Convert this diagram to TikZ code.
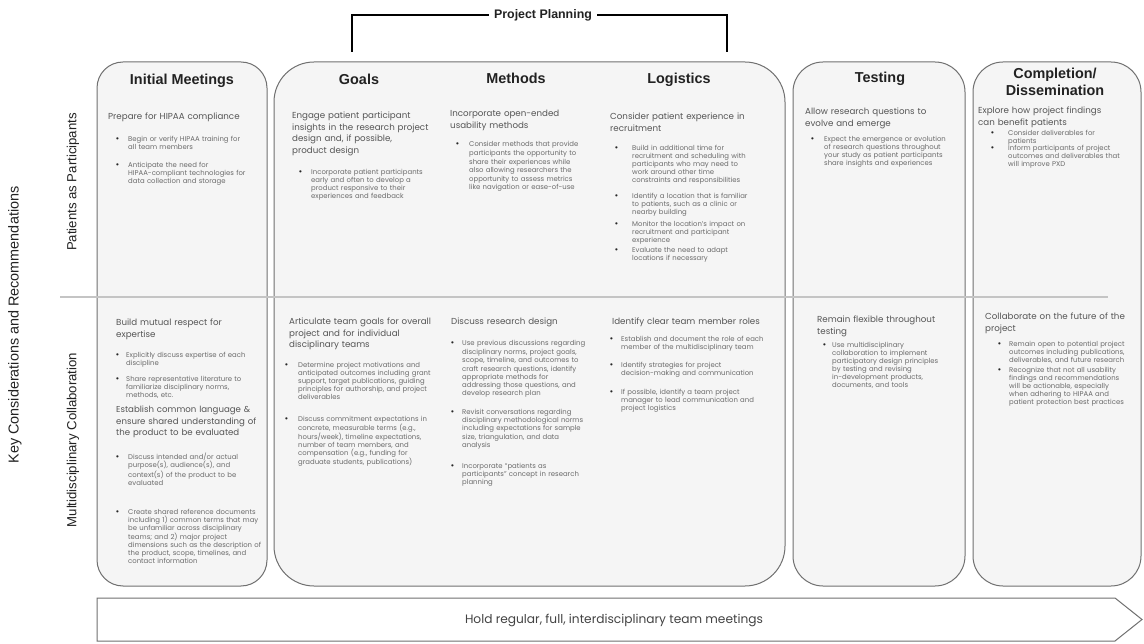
\documentclass[tikz,border=0pt]{standalone}
\usepackage{fontspec}
\setmainfont{Poppins}
\newfontfamily\hfont{Liberation Sans}
\definecolor{boxfill}{HTML}{F5F5F5}
\definecolor{boxline}{HTML}{707070}
\definecolor{bodycol}{HTML}{6A6A6A}
\definecolor{subcol}{HTML}{555555}
\definecolor{titlecol}{HTML}{222222}
\definecolor{divcol}{HTML}{C4C4C4}
\tikzset{
  colbox/.style={draw=boxline, line width=1pt, fill=boxfill},
  coltitle/.style={font=\hfont\bfseries\fontsize{14.4}{17.5}\selectfont, text=titlecol, inner sep=0, align=center},
  subhead/.style={anchor=base west, inner sep=0, align=left, font=\fontsize{8.7}{11.5}\selectfont, text=subcol},
  itmtext/.style={anchor=base west, inner sep=0, align=left, font=\fontsize{6.9}{8}\selectfont, text=bodycol},
  sidelabel/.style={rotate=90, font=\hfont\fontsize{13.2}{15}\selectfont, text=titlecol, inner sep=0},
}
\newcommand\bitem[6]{\node[itmtext,text width=#5pt] (#1) at (#2,#3) {\llap{\makebox[#4pt][l]{\color{black!85}\hfont\fontsize{8}{8}\selectfont\textbullet}}#6};}
\begin{document}
\begin{tikzpicture}[x=1pt,y=-1pt]
\useasboundingbox (0,0) rectangle (1144,644);
\fill[white] (0,0) rectangle (1144,644);

% column boxes
\draw[colbox, rounded corners=26pt] (97,62) rectangle (267,586);
\draw[colbox, rounded corners=40pt] (274,62) rectangle (785,586);
\draw[colbox, rounded corners=30pt] (793,62) rectangle (965,586);
\draw[colbox, rounded corners=30pt] (973,62) rectangle (1141,586);

% row divider
\draw[divcol, line width=1.6pt] (60,297) -- (1108,297);

% project planning bracket
\node[font=\hfont\bfseries\fontsize{12.4}{14}\selectfont, text=titlecol, fill=white, inner xsep=5pt, inner ysep=2pt] (pp) at (543,15) {Project Planning};
\draw[line width=1.8pt] (352,52) -- (352,15) -- (pp.west);
\draw[line width=1.8pt] (727,52) -- (727,15) -- (pp.east);

% side labels
\node[sidelabel, font=\hfont\fontsize{14.4}{16}\selectfont] (kc) at (15,325) {Key Considerations and Recommendations};
\node[sidelabel] (pap) at (73,182) {Patients as Participants};
\node[sidelabel] (mdc) at (73,440) {Multidisciplinary Collaboration};

% column titles
\node[coltitle] (tI) at (182,81) {Initial Meetings};
\node[coltitle] (tG) at (359,79) {Goals};
\node[coltitle] (tM) at (516,78) {Methods};
\node[coltitle] (tL) at (679,80) {Logistics};
\node[coltitle] (tT) at (880,79) {Testing};
\node[coltitle] (tC) at (1055,82) {Completion/\\Dissemination};

% ---------- Patients as Participants row ----------
\node[subhead,text width=150pt] (imP) at (108,120) {Prepare for HIPAA compliance};
\bitem{imP1}{128}{142}{12}{136}{Begin or verify HIPAA training for\\all team members}
\bitem{imP2}{128}{168}{12}{136}{Anticipate the need for\\HIPAA-compliant technologies for\\data collection and storage}

\node[subhead,text width=150pt] (gP) at (292,119) {Engage patient participant\\insights in the research project\\design and, if possible,\\product design};
\bitem{gP1}{311}{175}{12}{126}{Incorporate patient participants\\early and often to develop a\\product responsive to their\\experiences and feedback}

\node[subhead,text width=148pt] (mP) at (450,117) {Incorporate open-ended\\usability methods};
\bitem{mP1}{469}{147}{13}{128}{\baselineskip=8.6pt Consider methods that provide\\participants the opportunity to\\share their experiences while\\also allowing researchers the\\opportunity to assess metrics\\like navigation or ease-of-use}

\node[subhead,text width=165pt] (lP) at (610,120) {Consider patient experience in\\recruitment};
\bitem{lP1}{632}{151}{17}{148}{Build in additional time for\\recruitment and scheduling with\\participants who may need to\\work around other time\\constraints and responsibilities}
\bitem{lP2}{632}{199}{17}{148}{Identify a location that is familiar\\to patients, such as a clinic or\\nearby building}
\bitem{lP3}{632}{227}{17}{148}{Monitor the location's impact on\\recruitment and participant\\experience}
\bitem{lP4}{632}{253}{17}{148}{Evaluate the need to adapt\\locations if necessary}

\node[subhead,text width=150pt] (tP) at (805,115) {Allow research questions to\\evolve and emerge};
\bitem{tP1}{824}{142}{13}{137}{Expect the emergence or evolution\\of research questions throughout\\your study as patient participants\\share insights and experiences}

\node[subhead,text width=155pt] (cP) at (978,114) {Explore how project findings\\can benefit patients};
\bitem{cP1}{1008}{136}{17}{130}{\baselineskip=7.5pt Consider deliverables for\\patients}
\bitem{cP2}{1008}{151}{17}{130}{\baselineskip=7.5pt Inform participants of project\\outcomes and deliverables that\\will improve PXD}

% ---------- Multidisciplinary Collaboration row ----------
\node[subhead,text width=148pt] (imM) at (116,326) {Build mutual respect for\\expertise};
\bitem{imM1}{126}{358}{10}{139}{Explicitly discuss expertise of each\\discipline}
\bitem{imM2}{126}{382}{10}{139}{Share representative literature to\\familiarize disciplinary norms,\\methods, etc.}
\node[subhead,text width=150pt,font=\fontsize{8.6}{11.5}\selectfont] (imM3) at (116,413) {Establish common language \&\\ensure shared understanding of\\the product to be evaluated};
\bitem{imM4}{128}{460}{12}{138}{Discuss intended and/or actual\\purpose(s), audience(s), and\\context(s) of the product to be\\evaluated}
\bitem{imM5}{128}{514}{12}{138}{Create shared reference documents\\including 1) common terms that may\\be unfamiliar across disciplinary\\teams; and 2) major project\\dimensions such as the description of\\the product, scope, timelines, and\\contact information}

\node[subhead,text width=150pt] (gM) at (289,325) {Articulate team goals for overall\\project and for individual\\disciplinary teams};
\bitem{gM1}{298}{368}{13}{142}{Determine project motivations and\\anticipated outcomes including grant\\support, target publications, guiding\\principles for authorship, and project\\deliverables}
\bitem{gM2}{298}{421}{13}{142}{Discuss commitment expectations in\\concrete, measurable terms (e.g.,\\hours/week), timeline expectations,\\number of team members, and\\compensation (e.g., funding for\\graduate students, publications)}

\node[subhead,text width=145pt] (mM) at (451,325) {Discuss research design};
\bitem{mM1}{462}{346}{11}{138}{\baselineskip=8.4pt Use previous discussions regarding\\disciplinary norms, project goals,\\scope, timeline, and outcomes to\\craft research questions, identify\\appropriate methods for\\addressing those questions, and\\develop research plan}
\bitem{mM2}{462}{414}{11}{138}{\baselineskip=8.4pt Revisit conversations regarding\\disciplinary methodological norms\\including expectations for sample\\size, triangulation, and data\\analysis}
\bitem{mM3}{462}{468}{11}{138}{\baselineskip=8.4pt Incorporate “patients as\\participants” concept in research\\planning}

\node[subhead,text width=165pt] (lM) at (612,325) {Identify clear team member roles};
\bitem{lM1}{621}{342}{11}{158}{Establish and document the role of each\\member of the multidisciplinary team}
\bitem{lM2}{621}{368}{11}{158}{Identify strategies for project\\decision-making and communication}
\bitem{lM3}{621}{395}{11}{158}{If possible, identify a team project\\manager to lead communication and\\project logistics}

\node[subhead,text width=145pt] (tM2) at (817,323) {Remain flexible throughout\\testing};
\bitem{tM1}{832}{348}{9}{128}{Use multidisciplinary\\collaboration to implement\\participatory design principles\\by testing and revising\\in-development products,\\documents, and tools}

\node[subhead,text width=152pt] (cM) at (985,320) {Collaborate on the future of the\\project};
\bitem{cM1}{1009}{347}{11}{130}{Remain open to potential project\\outcomes including publications,\\deliverables, and future research}
\bitem{cM2}{1009}{373}{11}{130}{Recognize that not all usability\\findings and recommendations\\will be actionable, especially\\when adhering to HIPAA and\\patient protection best practices}

% bottom arrow
\draw[draw=boxline, line width=1pt, fill=white] (97,598) -- (1115,598) -- (1142,619.5) -- (1115,641) -- (97,641) -- cycle;
\node[font=\fontsize{12.2}{14}\selectfont, text=titlecol!85, inner sep=0] (hold) at (614,620) {Hold regular, full, interdisciplinary team meetings};
\end{tikzpicture}
\end{document}
